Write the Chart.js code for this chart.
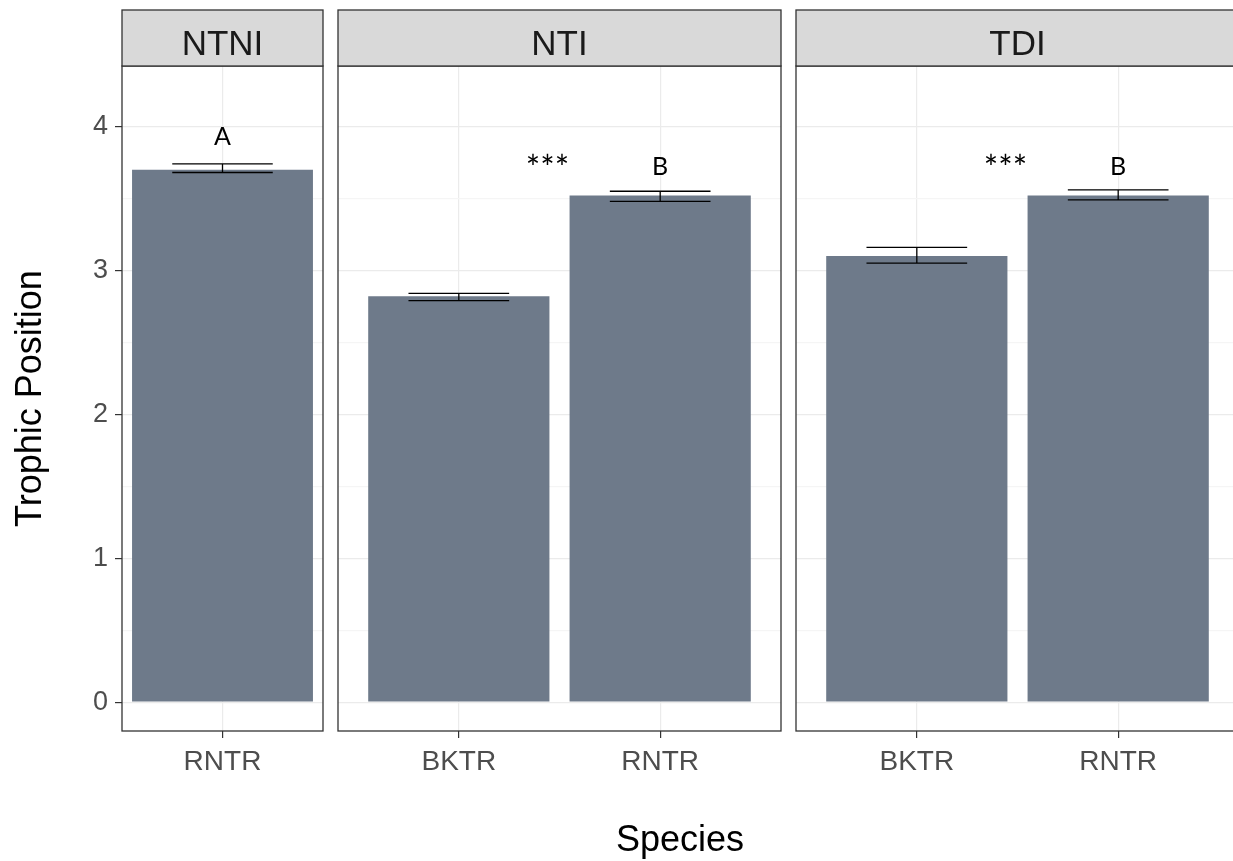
<!DOCTYPE html>
<html>
<head>
<meta charset="utf-8">
<script src="https://cdn.jsdelivr.net/npm/chart.js@4.4.1/dist/chart.umd.min.js"></script>
<style>
  html, body { margin: 0; padding: 0; background: #fff; width: 1233px; height: 861px; overflow: hidden; position: relative; }
  canvas { position: absolute; top: 0; }
  #xtitle { position: absolute; left: 530px; width: 300px; top: 821px; text-align: center;
    font: 36px "Liberation Sans", Arial, sans-serif; line-height: 1; color: #000; }
</style>
</head>
<body>
<canvas id="c1" width="330" height="861" style="left:0px"></canvas>
<canvas id="c2" width="460" height="861" style="left:330px"></canvas>
<canvas id="c3" width="454" height="861" style="left:790px"></canvas>
<div id="xtitle">Species</div>
<script>
const facetNames = ['NTNI', 'NTI', 'TDI'];

const ntniSpecies = ['RNTR'];
const ntniMean = [3.70];
const ntniLow = [3.68];
const ntniHigh = [3.74];

const ntiSpecies = ['BKTR', 'RNTR'];
const ntiMean = [2.82, 3.52];
const ntiLow = [2.79, 3.48];
const ntiHigh = [2.84, 3.55];

const tdiSpecies = ['BKTR', 'RNTR'];
const tdiMean = [3.10, 3.52];
const tdiLow = [3.05, 3.49];
const tdiHigh = [3.16, 3.56];

// letters and significance stars: [text, x position, baseline value]
const ntniNotes = [['A', 1, 3.87]];
const ntiNotes = [['***', 1.44, 3.63], ['B', 2, 3.665]];
const tdiNotes = [['***', 1.44, 3.63], ['B', 2, 3.665]];

const yTicks = [0, 1, 2, 3, 4];

const sans = '"Liberation Sans", Arial, sans-serif';

const facetPlugin = {
  id: 'facet',
  afterDatasetsDraw(chart, args, opts) {
    const { ctx, scales: { x, y } } = chart;
    ctx.save();
    ctx.strokeStyle = '#000';
    ctx.lineWidth = 1.3;
    opts.low.forEach((lo, i) => {
      const cx = x.getPixelForValue(i + 1);
      const x0 = x.getPixelForValue(i + 0.75);
      const x1 = x.getPixelForValue(i + 1.25);
      const yl = y.getPixelForValue(lo);
      const yh = y.getPixelForValue(opts.high[i]);
      ctx.beginPath();
      ctx.moveTo(x0, yl); ctx.lineTo(x1, yl);
      ctx.moveTo(x0, yh); ctx.lineTo(x1, yh);
      ctx.moveTo(cx, yl); ctx.lineTo(cx, yh);
      ctx.stroke();
    });
    ctx.fillStyle = '#000';
    ctx.textAlign = 'center';
    ctx.textBaseline = 'alphabetic';
    opts.notes.forEach(([t, vx, vy]) => {
      // stars look tiny in Lato, so bump them up
      ctx.font = (t === '***' ? 34 : 25) + 'px Lato, "Noto Sans", sans-serif';
      ctx.fillText(t, x.getPixelForValue(vx), y.getPixelForValue(vy));
    });
    ctx.restore();
  },
  afterDraw(chart, args, opts) {
    const { ctx, chartArea: a } = chart;
    ctx.save();
    ctx.strokeStyle = '#333';
    ctx.lineWidth = 1.3;
    ctx.strokeRect(a.left, a.top, a.right - a.left, a.bottom - a.top);
    const st = a.top - 56;
    ctx.fillStyle = '#d9d9d9';
    ctx.fillRect(a.left, st, a.right - a.left, 56);
    ctx.strokeRect(a.left, st, a.right - a.left, 56);
    ctx.fillStyle = '#1a1a1a';
    ctx.font = '35px ' + sans;
    ctx.textAlign = 'center';
    ctx.textBaseline = 'alphabetic';
    ctx.fillText(opts.title, (a.left + a.right) / 2, a.top - 11);
    ctx.restore();
  }
};

function makeChart(id, title, species, mean, low, high, notes, first, pad) {
  const isMajor = v => yTicks.includes(v);
  return new Chart(document.getElementById(id), {
    type: 'bar',
    data: {
      datasets: [{
        data: species.map((s, i) => ({ x: i + 1, y: mean[i] })),
        backgroundColor: '#6e7a8a',
        borderWidth: 0,
        barPercentage: 0.9,
        categoryPercentage: 1
      }]
    },
    plugins: [facetPlugin],
    options: {
      responsive: false,
      animation: false,
      layout: { padding: { left: pad[0], right: pad[1], top: 66, bottom: 0 } },
      scales: {
        x: {
          type: 'linear',
          min: species.length === 1 ? 0.5 : 0.4,
          max: species.length === 1 ? 1.5 : 2.6,
          offset: false,
          afterBuildTicks: s => { s.ticks = species.map((sp, i) => ({ value: i + 1 })); },
          afterFit: s => { s.height = 130; },
          ticks: {
            autoSkip: false, maxRotation: 0, padding: 7,
            color: '#4d4d4d', font: { family: sans, size: 28 },
            callback: v => species[v - 1] ?? ''
          },
          grid: { color: '#ebebeb', tickColor: '#333', tickLength: 7, offset: false, lineWidth: 1.2 },
          border: { display: false }
        },
        y: {
          min: -0.2,
          max: 4.42,
          afterFit: s => { s.width = first ? 122 : 0; },
          ticks: {
            display: first, stepSize: 0.5, includeBounds: false, padding: 7,
            color: '#4d4d4d', font: { family: sans, size: 27 },
            callback: v => isMajor(v) ? String(v) : ''
          },
          grid: {
            drawTicks: first, tickLength: 7,
            color: c => isMajor(c.tick.value) ? '#ebebeb' : '#f5f5f5',
            tickColor: c => isMajor(c.tick.value) ? '#333' : 'rgba(0,0,0,0)',
            lineWidth: 1.2
          },
          border: { display: false },
          title: {
            display: first, text: 'Trophic Position', color: '#000',
            font: { family: sans, size: 36 }, padding: { top: 9, bottom: 0 }
          }
        }
      },
      plugins: {
        legend: { display: false },
        tooltip: { enabled: false },
        facet: { title, low, high, notes }
      }
    }
  });
}

makeChart('c1', facetNames[0], ntniSpecies, ntniMean, ntniLow, ntniHigh, ntniNotes, true, [0, 7]);
makeChart('c2', facetNames[1], ntiSpecies, ntiMean, ntiLow, ntiHigh, ntiNotes, false, [8, 9]);
makeChart('c3', facetNames[2], tdiSpecies, tdiMean, tdiLow, tdiHigh, tdiNotes, false, [6, 5]);
</script>
</body>
</html>
